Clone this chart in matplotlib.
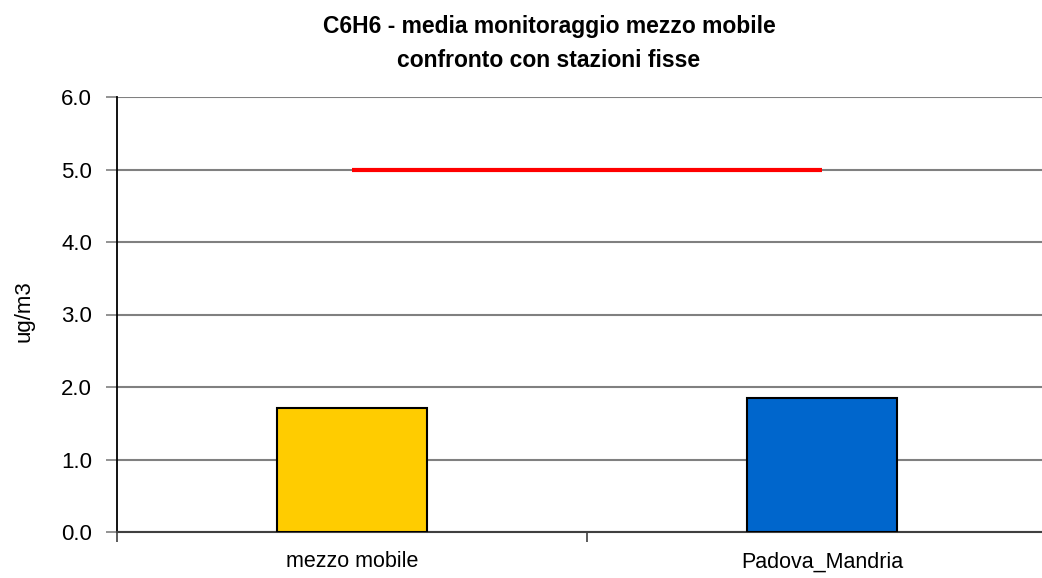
import matplotlib
matplotlib.use("Agg")
import matplotlib.pyplot as plt

categories = ["mezzo mobile", "Padova_Mandria"]
values = [1.71, 1.85]
limit_values = [5.0, 5.0]
bar_colors = ["#FFCC00", "#0066CC"]
yticks = [0, 1, 2, 3, 4, 5, 6]
title_lines = ["C6H6 - media monitoraggio mezzo mobile", "confronto con stazioni fisse"]

plt.rcParams['font.family'] = ['Liberation Sans', 'DejaVu Sans']

fig = plt.figure(figsize=(10.42, 5.78), dpi=100)
W, H = 1042, 578
left, right, top, bottom = 117, 1057, 97, 532
ax = fig.add_axes([left / W, (H - bottom) / H, (right - left) / W, (bottom - top) / H])

x = list(range(len(categories)))
ax.bar(x, values, width=0.32, color=bar_colors, edgecolor="black", linewidth=1.5, zorder=3)
ax.plot(x, limit_values, color="#FF0000", linewidth=3, zorder=4, solid_capstyle="butt")

ax.set_xlim(-0.5, 1.5)
ax.set_ylim(0, 6)
ax.set_yticks(yticks)
ax.set_yticklabels([f"{v:.1f}" for v in yticks], fontsize=16)
ax.yaxis.grid(True, color="#808080", linewidth=1.5, zorder=0)
ax.set_axisbelow(True)

ax.set_xticks([-0.5, 0.5, 1.5])
ax.set_xticklabels([])
ax.set_xticks(x, minor=True)
ax.set_xticklabels(categories, minor=True, fontsize=15.5)
ax.tick_params(axis="x", which="minor", length=0, pad=14)
ax.tick_params(axis="x", which="major", length=7, direction="out", width=1.2, color="#404040")
ax.tick_params(axis="y", length=8, direction="out", width=1.2, color="#808080", pad=10)

for s in ["top", "right"]:
    ax.spines[s].set_visible(False)
ax.spines["left"].set_color("black")
ax.spines["left"].set_linewidth(1.3)
ax.spines["bottom"].set_color("#404040")
ax.spines["bottom"].set_linewidth(1.5)

ax.set_ylabel("ug/m3", fontsize=16, va="center")
ax.yaxis.set_label_coords((24 - left) / (right - left), (bottom - 311) / (bottom - top))

fig.text(549 / W, 1 - 33 / H, title_lines[0], ha="center", va="baseline",
         fontsize=16.5, fontweight="bold")
fig.text(549 / W, 1 - 67 / H, title_lines[1], ha="center", va="baseline",
         fontsize=16.5, fontweight="bold")

fig.savefig("out.png", dpi=100)
